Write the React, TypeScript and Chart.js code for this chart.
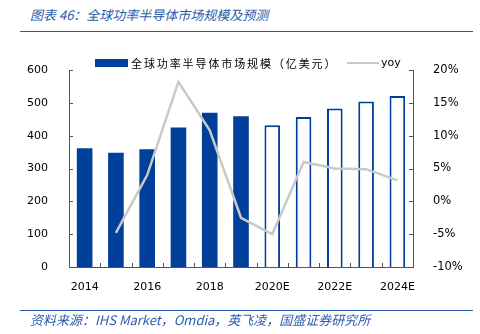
import React, { useEffect, useRef } from "react";
import { Chart, registerables } from "chart.js";

Chart.register(...registerables);

const categories = ["2014", "2015", "2016", "2017", "2018", "2019", "2020E", "2021E", "2022E", "2023E", "2024E"];
const marketSize = [362, 348, 359, 425, 470, 459, 432, 457, 483, 504, 521];
const yoy: (number | null)[] = [null, -4.8, 4.0, 18.2, 10.8, -2.5, -5.0, 6.0, 5.0, 4.9, 3.2];
const forecastFlags = [false, false, false, false, false, false, true, true, true, true, true];
const leftTicks = [0, 100, 200, 300, 400, 500, 600];
const rightTicks = [-10, -5, 0, 5, 10, 15, 20];

const BLUE = "#00409A";
const GREY = "#C9C9C9";
const AXIS = "#555555";
const TITLE_BLUE = "#2A5CAA";

const tickPlugin = {
  id: "innerTicks",
  afterDraw(chart: any) {
    const ctx = chart.ctx;
    const area = chart.chartArea;
    const y = chart.scales.y;
    const y1 = chart.scales.y1;
    ctx.save();
    ctx.strokeStyle = AXIS;
    ctx.lineWidth = 1;
    ctx.beginPath();
    const n = categories.length;
    const w = (area.right - area.left) / n;
    for (let i = 0; i <= n; i++) {
      const px = Math.round(area.left + i * w) + 0.5;
      ctx.moveTo(px, area.bottom);
      ctx.lineTo(px, area.bottom - 4);
    }
    leftTicks.forEach((v) => {
      const py = Math.round(y.getPixelForValue(v)) + 0.5;
      ctx.moveTo(area.left, py);
      ctx.lineTo(area.left + 4, py);
    });
    rightTicks.forEach((v) => {
      const py = Math.round(y1.getPixelForValue(v)) + 0.5;
      ctx.moveTo(area.right, py);
      ctx.lineTo(area.right - 4, py);
    });
    ctx.stroke();
    ctx.restore();
  },
};

export default function App() {
  const ref = useRef<HTMLCanvasElement | null>(null);

  useEffect(() => {
    if (!ref.current) return;
    const chart = new Chart(ref.current, {
      type: "bar",
      data: {
        labels: categories,
        datasets: [
          {
            type: "line",
            label: "yoy",
            data: yoy,
            yAxisID: "y1",
            borderColor: GREY,
            borderWidth: 2.5,
            pointRadius: 0,
            tension: 0,
            order: 0,
          } as any,
          {
            type: "bar",
            label: "全球功率半导体市场规模（亿美元）",
            data: marketSize,
            yAxisID: "y",
            backgroundColor: forecastFlags.map((f) => (f ? "#FFFFFF" : BLUE)),
            borderColor: BLUE,
            borderWidth: forecastFlags.map((f) => (f ? 2 : 0)),
            barPercentage: 0.5,
            categoryPercentage: 1,
            order: 1,
          },
        ],
      },
      options: {
        animation: false,
        responsive: false,
        maintainAspectRatio: false,
        layout: { padding: { top: 70, bottom: 37, left: 0, right: 0 } },
        plugins: { legend: { display: false }, tooltip: { enabled: false }, title: { display: false } },
        scales: {
          x: {
            offset: true,
            grid: { display: false, offset: true },
            border: { display: true, color: AXIS, width: 1 },
            ticks: {
              autoSkip: false,
              maxRotation: 0,
              padding: 6,
              color: "#000",
              font: { family: "DejaVu Sans", size: 11 },
              callback: (_v: any, i: number) => (i % 2 === 0 ? categories[i] : ""),
            },
            afterFit: (s: any) => {
              s.height = 30;
            },
          },
          y: {
            position: "left",
            min: 0,
            max: 600,
            grid: { display: false },
            border: { display: true, color: AXIS, width: 1 },
            ticks: {
              stepSize: 100,
              padding: 13,
              color: "#000",
              font: { family: "DejaVu Sans", size: 11 },
            },
            afterFit: (s: any) => {
              s.width = 69;
            },
          },
          y1: {
            position: "right",
            min: -10,
            max: 20,
            grid: { display: false },
            border: { display: true, color: AXIS, width: 1 },
            ticks: {
              stepSize: 5,
              padding: 12,
              color: "#000",
              font: { family: "DejaVu Sans", size: 11.5 },
              callback: (v: any) => `${v}%`,
            },
            afterFit: (s: any) => {
              s.width = 67;
            },
          },
        },
      },
      plugins: [tickPlugin],
    });
    return () => chart.destroy();
  }, []);

  return (
    <div style={{ position: "fixed", left: 0, top: 0, width: 480, height: 334, background: "#fff", overflow: "hidden" }}>
      <div
        style={{
          position: "absolute",
          left: 30,
          top: 6,
          fontFamily: "'Noto Sans CJK SC', sans-serif",
          fontStyle: "italic",
          fontSize: 13,
          color: TITLE_BLUE,
          whiteSpace: "nowrap",
          lineHeight: "18px",
        }}
      >
        图表 46：全球功率半导体市场规模及预测
      </div>
      <div style={{ position: "absolute", left: 20, top: 31, width: 453, height: 0, borderTop: "1.5px solid " + TITLE_BLUE }} />
      <canvas ref={ref} width={480} height={334} style={{ position: "absolute", left: 0, top: 0 }} />
      <div style={{ position: "absolute", left: 95, top: 59, width: 33, height: 8, background: BLUE }} />
      <div
        style={{
          position: "absolute",
          left: 131,
          top: 55,
          fontFamily: "'Noto Sans CJK SC', sans-serif",
          fontSize: 11,
          lineHeight: "16px",
          color: "#000",
          whiteSpace: "nowrap",
          letterSpacing: 1.9,
        }}
      >
        全球功率半导体市场规模（亿美元）
      </div>
      <div style={{ position: "absolute", left: 347, top: 62, width: 32, height: 2, background: GREY }} />
      <div
        style={{
          position: "absolute",
          left: 381,
          top: 56,
          fontFamily: "'DejaVu Sans', sans-serif",
          fontSize: 11,
          lineHeight: "14px",
          color: "#000",
          whiteSpace: "nowrap",
        }}
      >
        yoy
      </div>
      <div style={{ position: "absolute", left: 20, top: 310, width: 453, height: 0, borderTop: "1.5px solid " + TITLE_BLUE }} />
      <div
        style={{
          position: "absolute",
          left: 30,
          top: 311,
          fontFamily: "'Noto Sans CJK SC', sans-serif",
          fontStyle: "italic",
          fontSize: 13,
          lineHeight: "17px",
          color: TITLE_BLUE,
          whiteSpace: "nowrap",
        }}
      >
        资料来源：IHS Market，Omdia，英飞凌，国盛证券研究所
      </div>
    </div>
  );
}
